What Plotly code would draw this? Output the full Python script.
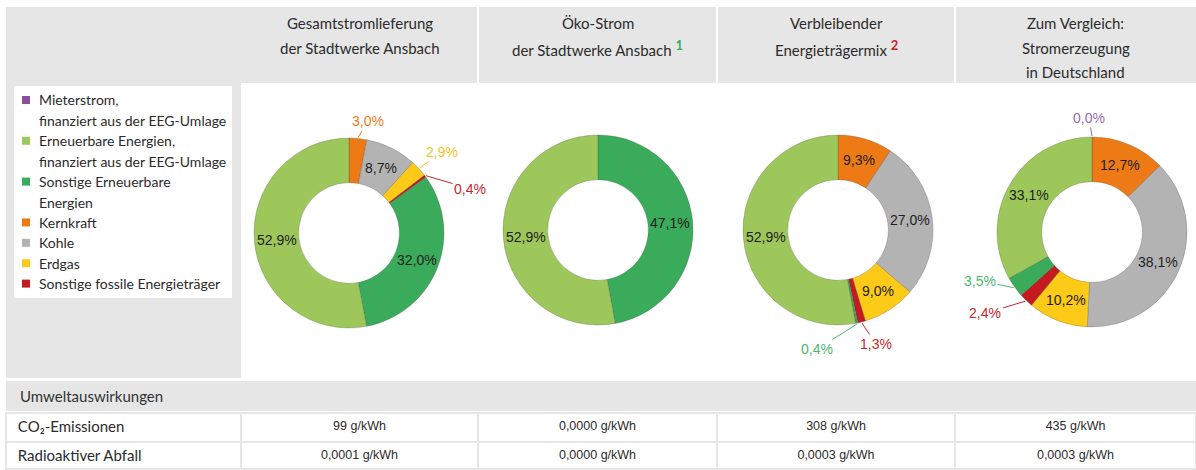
import math
import plotly.graph_objects as go

W, H = 1196, 470

# ---------------- data ----------------
categories = ["Mieterstrom", "EEG", "Sonstige EE", "Kernkraft", "Kohle", "Erdgas", "Sonstige fossile"]
legend_lines = [
    ["Mieterstrom,", "finanziert aus der EEG-Umlage"],
    ["Erneuerbare Energien,", "finanziert aus der EEG-Umlage"],
    ["Sonstige Erneuerbare", "Energien"],
    ["Kernkraft"],
    ["Kohle"],
    ["Erdgas"],
    ["Sonstige fossile Energieträger"],
]
header_lines = [
    ["Gesamtstromlieferung", "der Stadtwerke Ansbach"],
    ["Öko-Strom", "der Stadtwerke Ansbach"],
    ["Verbleibender", "Energieträgermix"],
    ["Zum Vergleich:", "Stromerzeugung", "in Deutschland"],
]
header_notes = [None, "1", "2", None]

# shares in %, legend order (None = not part of that mix)
values_gesamt = [None, 52.9, 32.0, 3.0, 8.7, 2.9, 0.4]
values_oeko = [None, 52.9, 47.1, None, None, None, None]
values_verbleib = [None, 52.9, 0.4, 9.3, 27.0, 9.0, 1.3]
values_deutschland = [0.0, 33.1, 3.5, 12.7, 38.1, 10.2, 2.4]
all_values = [values_gesamt, values_oeko, values_verbleib, values_deutschland]

table_title = "Umweltauswirkungen"
table_rows = ["CO\u2082-Emissionen", "Radioaktiver Abfall"]
co2_values = ["99 g/kWh", "0,0000 g/kWh", "308 g/kWh", "435 g/kWh"]
waste_values = ["0,0001 g/kWh", "0,0000 g/kWh", "0,0003 g/kWh", "0,0003 g/kWh"]

# ---------------- styles ----------------
colors = {
    "Mieterstrom": "#8b4f9f",
    "EEG": "#9dc75b",
    "Sonstige EE": "#3aab5b",
    "Kernkraft": "#ee7a16",
    "Kohle": "#b3b3b3",
    "Erdgas": "#fdca18",
    "Sonstige fossile": "#c41a20",
}
label_colors = {
    "Mieterstrom": "#9a6ab3",
    "Sonstige EE": "#4db86b",
    "Kernkraft": "#ef7d1c",
    "Erdgas": "#f8c21d",
    "Sonstige fossile": "#c8262c",
}
note_colors = {"1": "#3aab5b", "2": "#c8262c"}
slice_order = ["Mieterstrom", "Kernkraft", "Kohle", "Erdgas", "Sonstige fossile", "Sonstige EE", "EEG"]

GRAY = "#e6e6e6"
TXT = "#2b2b2b"
HEAD_FONT = "Lato, 'Open Sans', sans-serif"
NUM_FONT = "'Liberation Sans', Arial, sans-serif"

col_edges = [6, 241, 478, 717, 955, 1196]
pie_geom = [(349, 233), (598, 230), (838, 230), (1092, 232)]
R = 95
HOLE = 0.53
# pixel offsets of the outside labels (chart index, category)
outside_offsets = {
    (0, "Kernkraft"): (10, -16),
    (0, "Erdgas"): (22, -16),
    (0, "Sonstige fossile"): (44, 13),
    (2, "Sonstige fossile"): (14, 21),
    (2, "Sonstige EE"): (-40, 25),
    (3, "Mieterstrom"): (-3, -18),
    (3, "Sonstige fossile"): (-40, 12),
    (3, "Sonstige EE"): (-34, -7),
}


def fx(x):
    return x / W


def fy(y):
    return 1 - y / H


def fmt(v):
    return f"{v:.1f}".replace(".", ",") + "%"


fig = go.Figure()
shapes = []
annotations = []


def rect(x0, y0, x1, y1, color):
    shapes.append(dict(type="rect", xref="paper", yref="paper", x0=fx(x0), x1=fx(x1),
                       y0=fy(y1), y1=fy(y0), fillcolor=color, line=dict(width=0), layer="below"))


# background panels
rect(6, 7, 1196, 83, GRAY)          # header band
rect(6, 7, 241, 378, GRAY)          # legend column
rect(14, 86, 232, 298, "white")     # legend box
rect(6, 381, 1196, 411, GRAY)       # table title row
for xe in col_edges[2:5]:
    rect(xe - 1, 7, xe + 1, 83, "white")

# column headers
line_y = [23, 48, 72]
for i, lines in enumerate(header_lines):
    cx = (col_edges[i + 1] + col_edges[i + 2]) / 2
    for j, t in enumerate(lines):
        txt = t
        if j == len(lines) - 1 and header_notes[i] and len(lines) == 2:
            n = header_notes[i]
            txt = (t + " <b><span style='font-size:13px;baseline-shift:45%;fill:"
                   + note_colors[n] + "'>" + n + "</span></b>")
        annotations.append(dict(x=fx(cx), y=fy(line_y[j]), xref="paper", yref="paper", text=txt,
                                showarrow=False, xanchor="center", yanchor="middle",
                                font=dict(family=HEAD_FONT, size=15, color=TXT)))

# legend
li = 0
for cat, lines in zip(categories, legend_lines):
    y0 = 100 + 20.4 * li
    shapes.append(dict(type="rect", xref="paper", yref="paper", x0=fx(22), x1=fx(30),
                       y0=fy(y0 + 4), y1=fy(y0 - 4), fillcolor=colors[cat], line=dict(width=0)))
    for t in lines:
        annotations.append(dict(x=fx(37), y=fy(100 + 20.4 * li), xref="paper", yref="paper", text=t,
                                showarrow=False, xanchor="left", yanchor="middle",
                                font=dict(family=HEAD_FONT, size=14, color=TXT)))
        li += 1

# donuts
for k, vals in enumerate(all_values):
    cx, cy = pie_geom[k]
    vmap = dict(zip(categories, vals))
    labels = [c for c in slice_order if vmap[c] is not None]
    v = [vmap[c] for c in labels]
    fig.add_trace(go.Pie(
        labels=labels, values=v, sort=False, direction="clockwise", rotation=0, hole=HOLE,
        marker=dict(colors=[colors[c] for c in labels], line=dict(color="rgba(60,60,60,0.35)", width=0.7)),
        textinfo="none", hoverinfo="label+percent", showlegend=False,
        domain=dict(x=[fx(cx - R), fx(cx + R)], y=[fy(cy + R), fy(cy - R)]),
    ))
    total = sum(v)
    cum = 0.0
    for c, val in zip(labels, v):
        ang = math.radians(360 * (cum + val / 2) / total)
        cum += val
        if val >= 4:
            rho = R * (1 + HOLE) / 2
            px, py = cx + rho * math.sin(ang), cy - rho * math.cos(ang)
            annotations.append(dict(x=fx(px), y=fy(py), xref="paper", yref="paper", text=fmt(val),
                                    showarrow=False, xanchor="center", yanchor="middle",
                                    font=dict(family=NUM_FONT, size=14, color="#1e1e1e")))
        else:
            px, py = cx + (R + 1) * math.sin(ang), cy - (R + 1) * math.cos(ang)
            ax, ay = outside_offsets[(k, c)]
            col = label_colors[c]
            annotations.append(dict(x=fx(px), y=fy(py), xref="paper", yref="paper", text=fmt(val),
                                    showarrow=True, arrowhead=0, arrowwidth=1, arrowcolor=col,
                                    ax=ax, ay=ay, standoff=0, startstandoff=0,
                                    font=dict(family=NUM_FONT, size=14, color=col)))

# table: title row + two data rows
annotations.append(dict(x=fx(18), y=fy(396), xref="paper", yref="paper", text=table_title,
                        showarrow=False, xanchor="left", yanchor="middle",
                        font=dict(family=HEAD_FONT, size=15, color="#333")))
widths = [col_edges[i + 1] - col_edges[i] for i in range(5)]
fams = [HEAD_FONT] + [NUM_FONT] * 4
sizes = [15, 12.5, 12.5, 12.5, 12.5]
aligns = ["left", "center", "center", "center", "center"]
fig.add_trace(go.Table(
    domain=dict(x=[fx(6), 1], y=[0, fy(413)]),
    columnwidth=widths,
    header=dict(values=["\u00a0" + table_rows[0]] + co2_values, fill_color="white",
                line=dict(color=GRAY, width=2), align=aligns, height=29,
                font=dict(family=fams, size=sizes, color=TXT)),
    cells=dict(values=[["\u00a0" + table_rows[1]]] + [[w] for w in waste_values], fill_color="white",
               line=dict(color=GRAY, width=2), align=aligns, height=27,
               font=dict(family=fams, size=sizes, color=TXT)),
))

fig.update_layout(
    width=W, height=H, margin=dict(l=0, r=0, t=0, b=0),
    paper_bgcolor="white", plot_bgcolor="white",
    shapes=shapes, annotations=annotations, showlegend=False,
)
fig.write_html("out.html")
